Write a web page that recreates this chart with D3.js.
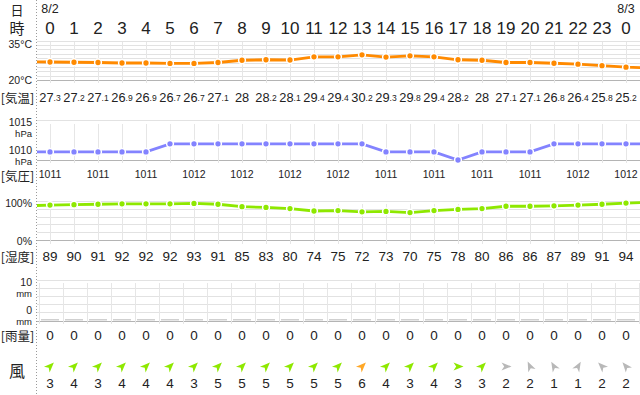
<!DOCTYPE html>
<html><head><meta charset="utf-8">
<script src="https://cdn.jsdelivr.net/npm/d3@7"></script>
<style>
html,body{margin:0;padding:0;background:#fff;}
svg{display:block;font-family:"Liberation Sans","Noto Sans CJK JP",sans-serif;}
</style></head>
<body><svg id="c" width="640" height="395"></svg>
<script>
// ---- data ----
const hourLabels = ["0","1","2","3","4","5","6","7","8","9","10","11","12","13","14","15","16","17","18","19","20","21","22","23","0"];
const dateLabels = ["8/2","8/3"];
const dateHours = [0, 24];
const temperature = [27.3,27.2,27.1,26.9,26.9,26.7,26.7,27.1,28,28.2,28.1,29.4,29.4,30.2,29.3,29.8,29.4,28.2,28,27.1,27.1,26.8,26.4,25.8,25.2];
const temperatureEdges = [27.4, 24.9];      // hour -1 and hour 25 (cut off at the edges)
const pressure = [1011,1011,1011,1011,1011,1012,1012,1012,1012,1012,1012,1012,1012,1012,1011,1011,1011,1010,1011,1011,1011,1012,1012,1012,1012];
const pressureEdges = [1011, 1012];
const humidity = [89,90,91,92,92,92,93,91,85,83,80,74,75,72,73,70,75,78,80,86,86,87,89,91,94];
const humidityEdges = [87, 96];
const rainfall = [0,0,0,0,0,0,0,0,0,0,0,0,0,0,0,0,0,0,0,0,0,0,0,0,0];
const windSpeed = [3,4,3,4,4,4,3,5,5,5,5,5,5,6,4,3,4,3,3,2,2,1,1,2,2];
const windDirection = [45,45,45,45,45,45,45,45,45,45,45,45,45,45,45,45,45,90,45,90,-25,-30,30,-45,-40];
const tempTicks = ["35°C","20°C"];
const pressTicks = ["1015","1010"];
const humTicks = ["100%","0%"];
const rainTicks = ["10","0"];

// ---- layout ----
const svg = d3.select("#c");
const hours = d3.range(hourLabels.length);
const x = d3.scaleLinear().domain([0,24]).range([50,626]);
const left = 37, right = 640;
const NUM = '"Liberation Sans","Noto Sans",sans-serif';
const CJK = '"Noto Sans CJK JP",sans-serif';

const yT = d3.scaleLinear().domain([20,35]).range([80,43]);
const yP = d3.scaleLinear().domain([1010,1015]).range([160,119.5]);
const yH = d3.scaleLinear().domain([0,100]).range([240.3,200.7]);
const yR = d3.scaleLinear().domain([0,10]).range([320.5,280]);

svg.append("defs").append("clipPath").attr("id","clip")
  .append("rect").attr("x",left).attr("y",0).attr("width",right-left).attr("height",395);

function hgrid(ys){
  const g = svg.append("g");
  ys.forEach((yy,i)=>{
    g.append("line").attr("x1",left).attr("x2",right).attr("y1",yy).attr("y2",yy)
      .attr("stroke", i===ys.length-1 ? "#b4b4b4" : "#e2e2e2").attr("stroke-width",1);
  });
}
function vgrid(xs, y1, y2){
  svg.append("g").selectAll("line").data(xs).join("line")
    .attr("x1",d=>d).attr("x2",d=>d).attr("y1",y1).attr("y2",y2)
    .attr("stroke","#e6e6e6").attr("stroke-width",1);
}
const hourX = hours.map(h=>Math.round(x(h))+0.5);

// temperature grid
const tTop = 40.7, tBot = 80.2;
hgrid(d3.range(10).map(i=>Math.round(tTop + i*(tBot-tTop)/9)+0.5));
vgrid(hourX, 42, 83);
// pressure grid
hgrid([yP(1015), yP(1010)].map(v=>Math.round(v)+0.5));
vgrid(hourX, 124, 163);
// humidity grid
hgrid([100,80,60,40,20,0].map(v=>Math.round(yH(v))+0.5));
vgrid(hourX, 204, 244);
// rain grid
hgrid([10,8,6,4,2,0].map(v=>Math.round(yR(v))+0.5));
vgrid(d3.range(-1,25).map(h=>Math.round(x(h)+13)+0.5), 283, 324);

// dotted separator
svg.append("line").attr("x1",36.5).attr("x2",36.5).attr("y1",0).attr("y2",395)
  .attr("stroke","#9a9a9a").attr("stroke-dasharray","1,2");

// ---- series ----
function series(vals, edges, y, color){
  const pts = [[-1,edges[0]], ...vals.map((v,i)=>[i,v]), [25,edges[1]]];
  const g = svg.append("g").attr("clip-path","url(#clip)");
  g.append("path").datum(pts)
    .attr("d", d3.line().x(d=>x(d[0])).y(d=>y(d[1])))
    .attr("fill","none").attr("stroke",color).attr("stroke-width",2.8);
  g.selectAll("circle").data(vals).join("circle")
    .attr("cx",(d,i)=>x(i)).attr("cy",d=>y(d)).attr("r",3.4)
    .attr("fill",color).attr("stroke","#fff").attr("stroke-width",1.5);
}
series(temperature, temperatureEdges, yT, "#ff8a00");
series(pressure, pressureEdges, yP, "#8383ff");
series(humidity, humidityEdges, yH, "#8ee800");

// rain bars (zero-height)
svg.append("g").selectAll("rect").data(rainfall).join("rect")
  .attr("x",(d,i)=>x(i)-9).attr("width",18)
  .attr("y",d=>yR(d)-1.5).attr("height",d=>yR(0)-yR(d)+1.5)
  .attr("fill","#d0d0d0");

// ---- text ----
function txt(t, xx, yy, size, anchor, fam){
  return svg.append("text").attr("x",xx).attr("y",yy).attr("font-size",size)
    .attr("text-anchor",anchor||"middle").attr("dominant-baseline","central")
    .attr("fill","#222").attr("font-family",fam||NUM).text(t);
}
txt("日",17,9,13,"middle",CJK);
txt("時",17,27.5,15,"middle",CJK);
dateLabels.forEach((d,i)=>txt(d, x(dateHours[i]), 9, 12.5, "middle"));
hourLabels.forEach((h,i)=>txt(h, x(i), 28, 17, "middle"));

// temperature
txt(tempTicks[0],32,44,10.5,"end");
txt(tempTicks[1],32,79.5,10.5,"end");
txt("[気温]",17.5,97,12.5,"middle",CJK);
temperature.forEach((v,i)=>{
  const s = String(v).split(".");
  const t = svg.append("text").attr("x",x(i)).attr("y",97).attr("text-anchor","middle")
    .attr("dominant-baseline","central").attr("fill","#222").attr("font-family",NUM);
  t.append("tspan").attr("font-size",12.8).text(s[0]);
  if (s[1]) {
    t.append("tspan").attr("font-size",8.5).attr("dy",1).text("." + s[1]);
  }
});

// pressure
txt(pressTicks[0],32,121.5,10.5,"end");
txt("hPa",32,133,9.5,"end");
txt(pressTicks[1],32,150,10.5,"end");
txt("hPa",32,161,9.5,"end");
txt("[気圧]",17.5,175,12.5,"middle",CJK);
pressure.forEach((v,i)=>{ if(i%2===0) txt(String(v), x(i), 173.5, 10.5, "middle"); });

// humidity
txt(humTicks[0],32,203,10.5,"end");
txt(humTicks[1],32,241,10.5,"end");
txt("[湿度]",17.5,256,12.5,"middle",CJK);
humidity.forEach((v,i)=>txt(String(v), x(i), 256, 13.5, "middle"));

// rain
txt(rainTicks[0],32,282,10.5,"end");
txt("mm",32,293.5,9.5,"end");
txt(rainTicks[1],32,310,10.5,"end");
txt("mm",32,321.5,9.5,"end");
txt("[雨量]",17.5,335,12.5,"middle",CJK);
rainfall.forEach((v,i)=>txt(String(v), x(i), 335, 13.5, "middle"));

// wind
txt("風",17,370,16,"middle",CJK);
const windColor = s => s >= 6 ? "#ffa726" : (s >= 3 ? "#8ee800" : "#b8b8b8");
svg.append("g").selectAll("path").data(windSpeed).join("path")
  .attr("d","M0,-5.5 L4,4.5 L0,1.8 L-4,4.5 Z")
  .attr("transform",(d,i)=>`translate(${x(i)},366.5) rotate(${windDirection[i]})`)
  .attr("fill",d=>windColor(d));
windSpeed.forEach((v,i)=>txt(String(v), x(i), 383.5, 13.5, "middle"));
</script></body></html>
